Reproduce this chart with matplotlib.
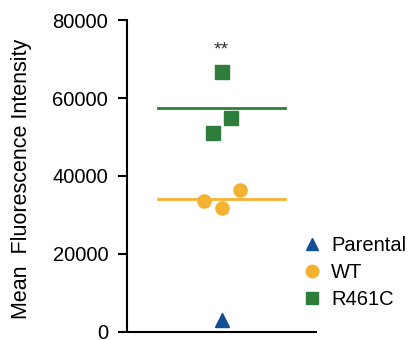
import matplotlib.pyplot as plt
from matplotlib.lines import Line2D

plt.rcParams['font.family'] = ['Liberation Sans', 'DejaVu Sans']

# values
groups = ["Parental", "WT", "R461C"]
parental_x = [0.0]
parental_y = [3000]
wt_x = [-0.19, 0.0, 0.2]
wt_y = [33600, 31800, 36500]
r461c_x = [0.0, 0.1, -0.09]
r461c_y = [66600, 54800, 51000]
yticks = [0, 20000, 40000, 60000, 80000]

blue = "#134f96"
orange = "#f4b233"
green = "#2f7d3b"

fig = plt.figure(figsize=(4.11, 3.40), dpi=100)
ax = fig.add_axes([0.309, 0.024, 0.46, 0.917])

ax.plot(parental_x, parental_y, "^", color=blue, markersize=10, ls="none")
ax.plot(wt_x, wt_y, "o", color=orange, markersize=9.5, ls="none")
ax.plot(r461c_x, r461c_y, "s", color=green, markersize=9.5, ls="none")

# mean lines
wt_mean = sum(wt_y) / len(wt_y)
r_mean = sum(r461c_y) / len(r461c_y)
ax.plot([-0.67, 0.67], [wt_mean, wt_mean], color=orange, lw=2)
ax.plot([-0.67, 0.67], [r_mean, r_mean], color=green, lw=2)

ax.text(0.0, 72300, "**", ha="center", va="center", fontsize=14, color="#333333")

ax.set_xlim(-1, 1)
ax.set_ylim(0, 80000)
ax.set_yticks(yticks)
ax.set_yticklabels([str(t) for t in yticks])
ax.set_xticks([])
for s in ["top", "right"]:
    ax.spines[s].set_visible(False)
ax.spines["left"].set_linewidth(1.5)
ax.spines["bottom"].set_linewidth(1.5)
ax.tick_params(axis="y", length=6.5, width=1.5, labelsize=14.5, pad=7)
ax.set_ylabel("Mean  Fluorescence Intensity", fontsize=15.5)
ax.yaxis.set_label_coords(-0.50, 0.49)

handles = [
    Line2D([], [], marker="^", color=blue, ls="none", markersize=9),
    Line2D([], [], marker="o", color=orange, ls="none", markersize=9),
    Line2D([], [], marker="s", color=green, ls="none", markersize=9),
]
fig.legend(handles, groups, loc="upper left", bbox_to_anchor=(0.686, 0.36),
           frameon=False, fontsize=14.5, handletextpad=0.35, labelspacing=0.4,
           handlelength=1.2)

fig.savefig("out.png", dpi=100)
